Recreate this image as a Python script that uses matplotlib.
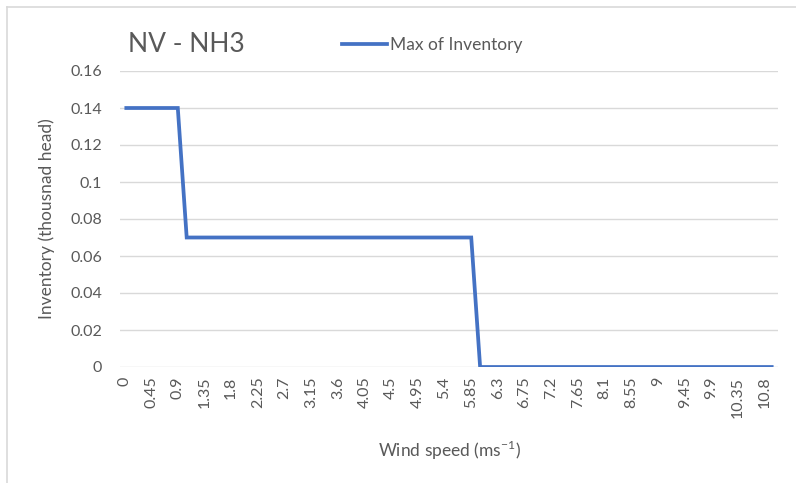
import matplotlib
matplotlib.use('Agg')

import matplotlib.pyplot as plt
from matplotlib.lines import Line2D

plt.rcParams['font.family'] = ['Lato', 'DejaVu Sans']
plt.rcParams['mathtext.fontset'] = 'custom'
plt.rcParams['mathtext.rm'] = 'Lato'

# wind speed categories (ms-1), every 0.15
wind_speed = [0, 0.15, 0.3, 0.45, 0.6, 0.75, 0.9, 1.05, 1.2, 1.35, 1.5, 1.65,
              1.8, 1.95, 2.1, 2.25, 2.4, 2.55, 2.7, 2.85, 3, 3.15, 3.3, 3.45,
              3.6, 3.75, 3.9, 4.05, 4.2, 4.35, 4.5, 4.65, 4.8, 4.95, 5.1, 5.25,
              5.4, 5.55, 5.7, 5.85, 6, 6.15, 6.3, 6.45, 6.6, 6.75, 6.9, 7.05,
              7.2, 7.35, 7.5, 7.65, 7.8, 7.95, 8.1, 8.25, 8.4, 8.55, 8.7, 8.85,
              9, 9.15, 9.3, 9.45, 9.6, 9.75, 9.9, 10.05, 10.2, 10.35, 10.5,
              10.65, 10.8, 10.95]

# max inventory (thousand head)
inventory = [0.14, 0.14, 0.14, 0.14, 0.14, 0.14, 0.14,
             0.07, 0.07, 0.07, 0.07, 0.07, 0.07, 0.07, 0.07, 0.07, 0.07, 0.07,
             0.07, 0.07, 0.07, 0.07, 0.07, 0.07, 0.07, 0.07, 0.07, 0.07, 0.07,
             0.07, 0.07, 0.07, 0.07, 0.07, 0.07, 0.07, 0.07, 0.07, 0.07, 0.07,
             0, 0, 0, 0, 0, 0, 0, 0, 0, 0, 0, 0, 0, 0, 0, 0, 0, 0, 0, 0,
             0, 0, 0, 0, 0, 0, 0, 0, 0, 0, 0, 0, 0, 0]

y_ticks = [0, 0.02, 0.04, 0.06, 0.08, 0.1, 0.12, 0.14, 0.16]

W, H = 796, 483
txt = '#595959'
blue = '#4472C4'

fig = plt.figure(figsize=(W / 100, H / 100), dpi=100)
ax = fig.add_axes([120 / W, 1 - 367 / H, 658 / W, 296 / H])

pos = list(range(len(wind_speed)))
ax.plot(pos, inventory, color=blue, lw=2.7, solid_joinstyle='miter',
        solid_capstyle='butt', zorder=3)

ax.set_xlim(-0.5, len(wind_speed) - 0.5)
ax.set_ylim(0, 0.16)
ax.set_yticks(y_ticks)
ax.set_yticklabels([f'{v:g}' for v in y_ticks], fontsize=11.5, color=txt)
ax.set_xticks(pos[::3])
ax.set_xticklabels([f'{v:g}' for v in wind_speed[::3]], rotation=90,
                   fontsize=11.5, color=txt)
ax.tick_params(length=0)
ax.tick_params(axis='y', pad=13)
ax.tick_params(axis='x', pad=7)
ax.grid(axis='y', color='#D9D9D9', lw=1)
ax.set_axisbelow(True)
for s in ax.spines.values():
    s.set_visible(False)

ax.set_xlabel(r'Wind speed (ms$^{-1}$)', fontsize=12.5, color=txt, labelpad=15)
ax.set_ylabel('Inventory (thousnad head)', fontsize=12.5, color=txt, labelpad=11)

fig.text(128 / W, 1 - 45 / H, 'NV - NH3', fontsize=19, color=txt,
         va='center', ha='left')
handle = Line2D([], [], color=blue, lw=2.7)
fig.legend([handle], ['Max of Inventory'], loc='center left',
           bbox_to_anchor=(326 / W, 1 - 45 / H), frameon=False,
           fontsize=12.5, labelcolor=txt, handlelength=2.6, handletextpad=0.2)

# chart border (top and left edges visible)
fig.add_artist(Line2D([7 / W, 7 / W], [0, 1 - 7 / H], color='#D9D9D9', lw=1.2))
fig.add_artist(Line2D([7 / W, 1], [1 - 7 / H, 1 - 7 / H], color='#D9D9D9', lw=1.2))

fig.savefig('out.png', dpi=100)
